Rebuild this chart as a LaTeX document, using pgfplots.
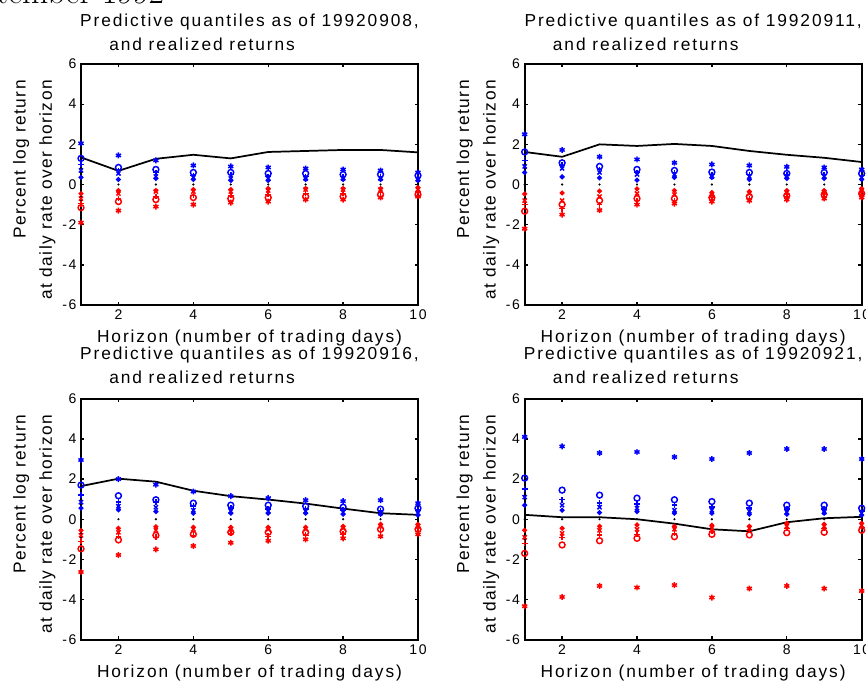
\documentclass[border=0pt]{standalone}
\usepackage{pgfplots}
\pgfplotsset{compat=1.18}
\usepackage{pgfplotstable}
\usetikzlibrary{calc}
\usepackage{fontspec}
\newfontfamily\mfont[LetterSpace=11]{Liberation Sans}
\newfontfamily\yfont[LetterSpace=8]{Liberation Sans}

% columns: blue star, blue o, blue +, blue x, blue dot, red dot, red x, red +, red o, red star, realized line, black dots
\pgfplotstableread{
x  bs   bo   bp   bx   bd    rd    rx    rp    ro    rs    ln    k
1  2.05 1.30 1.00 0.70 0.35  -0.45 -0.70 -0.95 -1.15 -1.90 1.35  0
2  1.45 0.85 0.70 0.55 0.25  -0.30 -0.45 -0.70 -0.85 -1.30 0.68  0
3  1.20 0.75 0.60 0.40 0.30  -0.30 -0.35 -0.60 -0.75 -1.10 1.28  0
4  0.95 0.60 0.45 0.35 0.25  -0.25 -0.35 -0.55 -0.65 -1.00 1.48  0
5  0.90 0.60 0.50 0.30 0.20  -0.25 -0.35 -0.55 -0.70 -0.90 1.30  0
6  0.85 0.55 0.40 0.30 0.20  -0.20 -0.30 -0.50 -0.65 -0.85 1.62  0
7  0.80 0.55 0.40 0.30 0.25  -0.20 -0.25 -0.45 -0.60 -0.75 1.67  0
8  0.75 0.50 0.40 0.30 0.25  -0.20 -0.25 -0.45 -0.60 -0.75 1.72  0
9  0.70 0.50 0.40 0.30 0.25  -0.20 -0.25 -0.40 -0.50 -0.65 1.72  0
10 0.60 0.45 0.35 0.25 0.20  -0.15 -0.25 -0.35 -0.50 -0.60 1.60  0
}\tabA
\pgfplotstableread{
x  bs   bo   bp   bx   bd    rd    rx    rp    ro    rs    ln    k
1  2.50 1.62 1.20 0.90 0.60  -0.47 -0.80 -1.00 -1.33 -2.20 1.62  0
2  1.72 1.08 0.95 0.80 0.38  -0.42 -0.80 -1.20 -1.00 -1.50 1.38  0
3  1.38 0.90 0.75 0.60 0.33  -0.33 -0.60 -1.00 -0.80 -1.28 2.00  0
4  1.25 0.75 0.60 0.50 0.22  -0.22 -0.45 -0.80 -0.70 -1.00 1.92  0
5  1.08 0.70 0.60 0.50 0.35  -0.30 -0.50 -0.80 -0.70 -0.95 2.02  0
6  1.00 0.62 0.50 0.40 0.35  -0.40 -0.55 -0.75 -0.65 -0.85 1.92  0
7  0.95 0.60 0.50 0.40 0.25  -0.35 -0.45 -0.70 -0.60 -0.80 1.67  0
8  0.88 0.55 0.50 0.40 0.30  -0.30 -0.40 -0.60 -0.55 -0.75 1.48  0
9  0.85 0.60 0.50 0.40 0.30  -0.30 -0.40 -0.60 -0.50 -0.70 1.33  0
10 0.75 0.55 0.45 0.35 0.25  -0.20 -0.35 -0.50 -0.45 -0.65 1.12  0
}\tabB
\pgfplotstableread{
x  bs   bo   bp   bx   bd    rd    rx    rp    ro    rs    ln    k
1  2.95 1.70 1.20 0.85 0.55  -0.55 -0.80 -1.10 -1.47 -2.63 1.65  0
2  2.00 1.17 0.85 0.65 0.47  -0.45 -0.65 -0.85 -1.03 -1.78 2.02  0
3  1.72 0.97 0.85 0.60 0.38  -0.37 -0.55 -0.90 -0.80 -1.50 1.87  0
4  1.38 0.80 0.65 0.45 0.30  -0.40 -0.50 -0.80 -0.75 -1.33 1.42  0
5  1.15 0.70 0.55 0.40 0.30  -0.40 -0.50 -0.70 -0.65 -1.17 1.15  0
6  1.05 0.70 0.50 0.40 0.30  -0.40 -0.50 -0.85 -0.65 -1.07 0.98  0
7  0.95 0.65 0.50 0.40 0.30  -0.40 -0.50 -0.80 -0.65 -1.00 0.78  0
8  0.90 0.60 0.45 0.35 0.25  -0.35 -0.45 -0.75 -0.60 -0.95 0.53  0
9  0.95 0.50 0.40 0.30 0.25  -0.25 -0.35 -0.60 -0.50 -0.85 0.30  0
10 0.80 0.55 0.45 0.30 0.20  -0.25 -0.35 -0.60 -0.50 -0.75 0.22  0
}\tabC
\pgfplotstableread{
x  bs   bo   bp   bx   bd    rd    rx    rp    ro    rs    ln    k
1  4.10 2.05 1.50 1.10 0.70  -0.55 -0.90 -1.20 -1.70 -4.33 0.22  0
2  3.63 1.45 0.97 0.70 0.45  -0.45 -0.70 -0.90 -1.28 -3.87 0.10  0
3  3.30 1.20 0.80 0.60 0.33  -0.35 -0.55 -0.78 -1.07 -3.32 0.10  0
4  3.35 1.05 0.75 0.55 0.38  -0.28 -0.50 -0.75 -0.95 -3.40 0.00  0
5  3.10 0.97 0.70 0.45 0.30  -0.35 -0.50 -0.70 -0.87 -3.28 -0.22 0
6  3.00 0.88 0.60 0.45 0.30  -0.30 -0.45 -0.60 -0.75 -3.90 -0.50 0
7  3.30 0.80 0.55 0.40 0.25  -0.35 -0.45 -0.55 -0.78 -3.45 -0.60 0
8  3.50 0.70 0.50 0.35 0.25  -0.20 -0.35 -0.45 -0.67 -3.32 -0.15 0
9  3.50 0.70 0.50 0.35 0.30  -0.25 -0.35 -0.45 -0.65 -3.45 0.05  0
10 3.00 0.55 0.40 0.30 0.20  -0.20 -0.30 -0.40 -0.55 -3.57 0.12  0
}\tabD

\newcommand\lblfont{\mfont\fontsize{13}{15}\selectfont}
\newcommand\ylfont{\yfont\fontsize{13}{15}\selectfont}

\pgfplotsset{
  qpanel/.style={
    scale only axis, width=252.75pt, height=180.75pt, anchor=south west,
    xmin=1, xmax=10, ymin=-6, ymax=6,
    xtick={2,4,6,8,10}, ytick={-6,-4,-2,0,2,4,6},
    tick align=inside, major tick length=2.5pt,
    axis line style={line width=1.4pt},
    every tick/.style={black, line width=1pt},
    tick label style={font=\mfont\fontsize{10.5}{12}\selectfont},
    /pgf/number format/assume math mode=true,
    clip=false,
  },
  bm/.style={blue, only marks, mark size=2.2pt, line width=1.1pt},
  rm/.style={red, only marks, mark size=2.2pt, line width=1.1pt},
}

\newcommand\panel[4]{%
  \addplot[black, only marks, mark=*, mark size=0.6pt] table[x=x,y=k]{#1};
  \addplot[bm, mark=asterisk] table[x=x,y=bs]{#1};
  \addplot[bm, mark=o] table[x=x,y=bo]{#1};
  \addplot[bm, mark=+] table[x=x,y=bp]{#1};
  \addplot[bm, mark=x] table[x=x,y=bx]{#1};
  \addplot[bm, mark=*, mark size=1.3pt] table[x=x,y=bd]{#1};
  \addplot[rm, mark=*, mark size=1.3pt] table[x=x,y=rd]{#1};
  \addplot[rm, mark=x] table[x=x,y=rx]{#1};
  \addplot[rm, mark=+] table[x=x,y=rp]{#1};
  \addplot[rm, mark=o] table[x=x,y=ro]{#1};
  \addplot[rm, mark=asterisk] table[x=x,y=rs]{#1};
  \addplot[black, line width=1.3pt, mark=none] table[x=x,y=ln]{#1};
  \node[font=\lblfont, anchor=base, inner sep=0pt] at ($(rel axis cs:0.5,1)+(0pt,#3)$) {Predictive quantiles as of #2,};
  \node[font=\lblfont, anchor=base west, inner sep=0pt] at ($(rel axis cs:0,1)+(21pt,#4)$) {and realized returns};
  \node[font=\lblfont, anchor=base, inner sep=0pt] at ($(rel axis cs:0.5,0)+(0pt,-28pt)$) {Horizon (number of trading days)};
  \node[font=\ylfont, anchor=base east, rotate=90, inner sep=0pt] at ($(rel axis cs:0,1)+(-41.6pt,-12pt)$) {Percent log return};
  \node[font=\ylfont, anchor=base east, rotate=90, inner sep=0pt] at ($(rel axis cs:0,1)+(-21.8pt,-12pt)$) {at daily rate over horizon};
}

\begin{document}
\begin{tikzpicture}
\path[use as bounding box] (0,0) rectangle (649.5pt,-513pt);
\clip (0,0) rectangle (649.5pt,-513pt);
\node[anchor=base west, inner sep=0pt, font=\fontsize{25.5}{25.5}\selectfont] at (-3pt,-3pt) {tember 1992};

\begin{axis}[qpanel, at={(60.75pt,-228.75pt)}]
\panel{\tabA}{19920908}{28.5pt}{10.5pt}
\end{axis}
\begin{axis}[qpanel, at={(393.5pt,-228.75pt)}]
\panel{\tabB}{19920911}{28.5pt}{10.5pt}
\end{axis}
\begin{axis}[qpanel, at={(60.75pt,-479.8pt)}]
\panel{\tabC}{19920916}{29.2pt}{11.7pt}
\end{axis}
\begin{axis}[qpanel, at={(393.5pt,-479.8pt)}]
\panel{\tabD}{19920921}{29.2pt}{11.7pt}
\end{axis}
\end{tikzpicture}
\end{document}
